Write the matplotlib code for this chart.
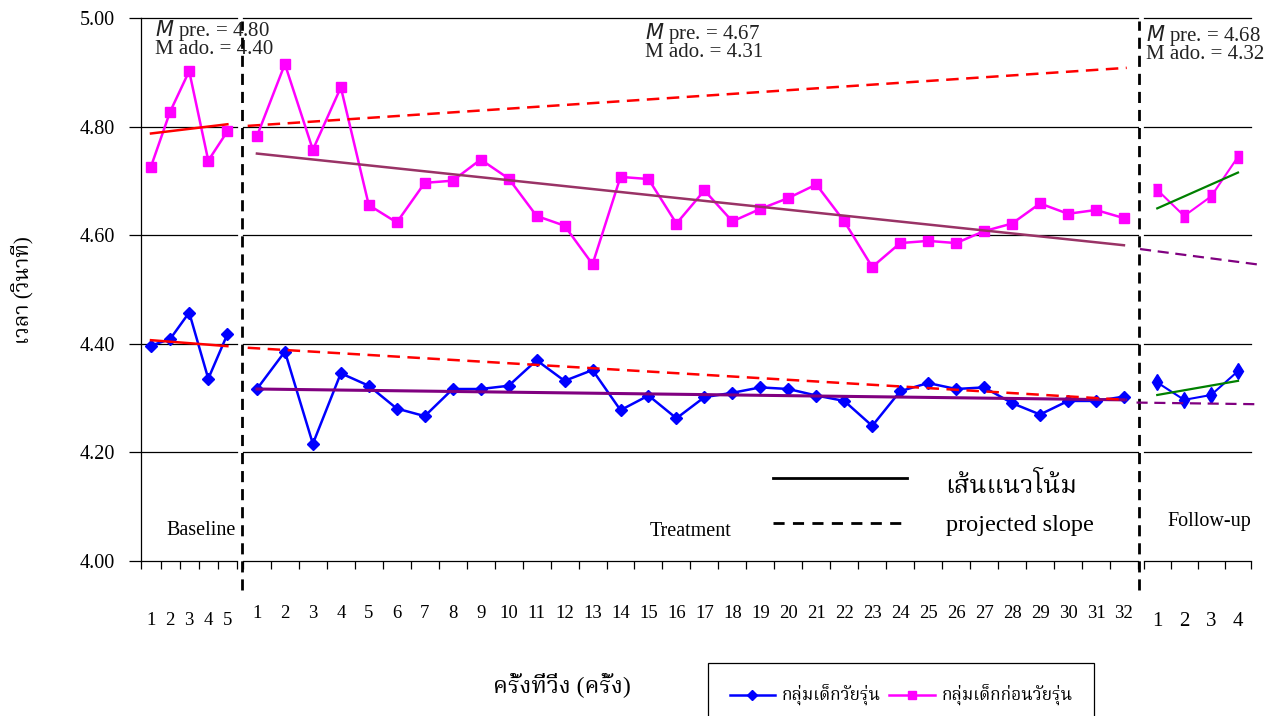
import numpy as np
import matplotlib
matplotlib.use('Agg')
import matplotlib.pyplot as plt
from matplotlib import font_manager, ft2font
from matplotlib.lines import Line2D

# sessions per phase
baseline_sessions = [1, 2, 3, 4, 5]
treatment_sessions = list(range(1, 33))
followup_sessions = [1, 2, 3, 4]

# running time (seconds), pre-adolescent group
pre_baseline = [4.727, 4.828, 4.903, 4.738, 4.792]
pre_treatment = [4.783, 4.916, 4.758, 4.873, 4.656, 4.624, 4.697, 4.701,
                 4.740, 4.705, 4.636, 4.618, 4.547, 4.708, 4.704, 4.622,
                 4.683, 4.626, 4.649, 4.669, 4.694, 4.626, 4.542, 4.586,
                 4.590, 4.586, 4.608, 4.622, 4.659, 4.640, 4.647, 4.632]
pre_followup = [4.684, 4.636, 4.672, 4.745]

# running time (seconds), adolescent group
ado_baseline = [4.397, 4.409, 4.458, 4.336, 4.418]
ado_treatment = [4.317, 4.386, 4.216, 4.346, 4.323, 4.281, 4.267, 4.317,
                 4.317, 4.323, 4.370, 4.332, 4.352, 4.278, 4.305, 4.263,
                 4.302, 4.310, 4.320, 4.317, 4.305, 4.295, 4.249, 4.313,
                 4.328, 4.317, 4.320, 4.291, 4.270, 4.295, 4.295, 4.303]
ado_followup = [4.329, 4.297, 4.306, 4.350]

# trend lines (start/end session, start/end value)
base_trend_x = [1, 5]
pre_base_trend = [4.788, 4.805]
ado_base_trend = [4.407, 4.396]
treat_trend_x = [1, 32]
pre_treat_trend = [4.751, 4.582]
ado_treat_trend = [4.317, 4.297]
treat_proj_x = [0.67, 32.1]
pre_treat_proj = [4.802, 4.909]
ado_treat_proj = [4.393, 4.297]
follow_trend_x = [1, 4]
pre_follow_trend = [4.650, 4.716]
ado_follow_trend = [4.306, 4.332]
pre_follow_proj_x = [0.36, 4.82]
pre_follow_proj = [4.575, 4.546]
ado_follow_proj_x = [0.23, 4.67]
ado_follow_proj = [4.292, 4.289]

mean_pre = ['4.80', '4.67', '4.68']
mean_ado = ['4.40', '4.31', '4.32']
phase_names = ['Baseline', 'Treatment', 'Follow-up']
y_ticks = [4.00, 4.20, 4.40, 4.60, 4.80, 5.00]


def find_thai_font():
    prefer = ['Norasi', 'Kinnari', 'TH Sarabun New', 'Noto Serif Thai',
              'Garuda', 'Loma', 'Noto Sans Thai', 'Noto Sans Thai UI']
    found = {}
    for f in font_manager.fontManager.ttflist:
        try:
            if 0x0E01 in ft2font.FT2Font(f.fname).get_charmap():
                found.setdefault(f.name, f.fname)
        except Exception:
            pass
    for name in prefer:
        if name in found:
            return name
    return next(iter(found), None)


thai = find_thai_font()
families = ['Liberation Serif'] + ([thai] if thai else []) + ['DejaVu Sans']
plt.rcParams['font.family'] = families
plt.rcParams['mathtext.fontset'] = 'dejavusans'

fig = plt.figure(figsize=(12.8, 7.16), dpi=100)
ax1 = fig.add_axes([0.1105, 0.2165, 0.0746, 0.7577])
ax2 = fig.add_axes([0.1898, 0.2165, 0.6992, 0.7577])
ax3 = fig.add_axes([0.8936, 0.2165, 0.0841, 0.7577])
axes = [ax1, ax2, ax3]
counts = [5, 32, 4]
label_pads = [37, 32, 37]
label_sizes = [13.5, 13.5, 15]

for ax, n, pad, size in zip(axes, counts, label_pads, label_sizes):
    ax.set_xlim(0.5, n + 0.5)
    ax.set_ylim(4.0, 5.0)
    for y in y_ticks[1:]:
        ax.axhline(y, color='black', lw=0.9, zorder=1, clip_on=False)
    ax.spines[['top', 'right']].set_visible(False)
    ax.spines['bottom'].set_linewidth(0.9)
    ax.set_xticks(np.arange(0.5, n + 1))
    ax.set_xticklabels([])
    ax.set_xticks(range(1, n + 1), minor=True)
    ax.set_xticklabels([str(i) for i in range(1, n + 1)], minor=True)
    ax.tick_params(axis='x', which='major', direction='out', length=6, width=0.9)
    ax.tick_params(axis='x', which='minor', length=0, pad=pad, labelsize=size)
    ax.patch.set_alpha(0)

ax1.set_yticks(y_ticks)
ax1.set_yticklabels([f'{v:.2f}' for v in y_ticks])
ax1.tick_params(axis='y', direction='out', length=9, width=0.9, pad=10, labelsize=14.5)
ax1.spines['left'].set_linewidth(0.9)
for ax in (ax2, ax3):
    ax.spines['left'].set_visible(False)
    ax.set_yticks([])

# data series
ax1.plot(baseline_sessions, ado_baseline, color='#0000FF', marker='D', ms=6, lw=1.8, zorder=3)
ax1.plot(baseline_sessions, pre_baseline, color='#FF00FF', marker='s', ms=7.5, lw=1.8, zorder=3)
ax2.plot(treatment_sessions, ado_treatment, color='#0000FF', marker='D', ms=6, lw=1.8, zorder=3)
ax2.plot(treatment_sessions, pre_treatment, color='#FF00FF', marker='s', ms=7.5, lw=1.8, zorder=3)
rect = [(-0.3, -0.5), (0.3, -0.5), (0.3, 0.5), (-0.3, 0.5)]
ax3.plot(followup_sessions, ado_followup, color='#0000FF', marker='d', ms=8, lw=1.5, zorder=3)
ax3.plot(followup_sessions, pre_followup, color='#FF00FF', marker=rect, ms=9, lw=1.5, zorder=3)

# trend lines
ax1.plot(base_trend_x, pre_base_trend, color='#FF0000', lw=1.8, zorder=4)
ax1.plot(base_trend_x, ado_base_trend, color='#FF0000', lw=1.8, zorder=4)
ax2.plot(treat_trend_x, pre_treat_trend, color='#993366', lw=1.8, zorder=4)
ax2.plot(treat_trend_x, ado_treat_trend, color='#800080', lw=2.2, zorder=4)
ax2.plot(treat_proj_x, pre_treat_proj, color='#FF0000', lw=1.8, dashes=(5, 3), zorder=4)
ax2.plot(treat_proj_x, ado_treat_proj, color='#FF0000', lw=1.8, dashes=(5, 3), zorder=4)
ax3.plot(follow_trend_x, pre_follow_trend, color='#008000', lw=1.6, zorder=4)
ax3.plot(follow_trend_x, ado_follow_trend, color='#008000', lw=1.6, zorder=4)
ax3.plot(pre_follow_proj_x, pre_follow_proj, color='#800080', lw=1.6, dashes=(5, 3), zorder=4, clip_on=False)
ax3.plot(ado_follow_proj_x, ado_follow_proj, color='#800080', lw=1.6, dashes=(5, 3), zorder=4, clip_on=False)

# phase dividers
for x in (0.46, 32.54):
    ax2.axvline(x, ymin=-0.053, ymax=0.995, color='black', lw=2, dashes=(4, 2.5), clip_on=False, zorder=5)

# mean annotations (two tight lines in one text)
mean_pos = [(0.141, 1.0), (0.449, 0.996), (0.02, 0.992)]
for ax, (mx, my), mp, ma in zip(axes, mean_pos, mean_pre, mean_ado):
    ax.text(mx, my, r'$\mathit{M}$ pre. = ' + mp + '\nM ado. = ' + ma,
            transform=ax.transAxes, fontsize=15, linespacing=0.78,
            color='#222222', va='top', ha='left', clip_on=False, zorder=6)

# phase names
ax1.text(0.257, 0.057, phase_names[0], transform=ax1.transAxes, fontsize=14.5,
         va='center', ha='left', clip_on=True)
ax2.text(0.5, 0.055, phase_names[1], transform=ax2.transAxes, fontsize=14.5,
         va='center', ha='center')
ax3.text(0.216, 0.072, phase_names[2], transform=ax3.transAxes, fontsize=14.5,
         va='center', ha='left', clip_on=True)

# trend key inside treatment panel
ax2.plot([0.592, 0.742], [0.153, 0.153], transform=ax2.transAxes, color='black', lw=2)
ax2.plot([0.592, 0.742], [0.070, 0.070], transform=ax2.transAxes, color='black', lw=2, dashes=(4, 3))
ax2.text(0.785, 0.14, 'เส้นแนวโน้ม', transform=ax2.transAxes, fontsize=18.5, va='center', ha='left')
ax2.text(0.785, 0.066, 'projected slope', transform=ax2.transAxes, fontsize=17.5, va='center', ha='left')

# axis titles
fig.text(562 / 1280, 1 - 685 / 716, 'ครั้งที่วิ่ง (ครั้ง)', fontsize=17, ha='center', va='center')
fig.text(22 / 1280, 1 - 290 / 716, 'เวลา (วินาที)', fontsize=15, ha='center', va='center', rotation=90)

# group legend
h_ado = Line2D([], [], color='#0000FF', marker='D', ms=5, lw=1.8)
h_pre = Line2D([], [], color='#FF00FF', marker='s', ms=6, lw=1.8)
leg = fig.legend([h_ado, h_pre], ['กลุ่มเด็กวัยรุ่น', 'กลุ่มเด็กก่อนวัยรุ่น'], ncol=2,
                 loc='upper left', bbox_to_anchor=(708 / 1280, 1 - 663 / 716),
                 borderaxespad=0, fancybox=False, framealpha=1, edgecolor='black',
                 fontsize=12.5, handlelength=2.6, handletextpad=0.4, columnspacing=0.5,
                 borderpad=1.25)
leg.get_frame().set_linewidth(0.9)

fig.savefig('out.png', dpi=100)
